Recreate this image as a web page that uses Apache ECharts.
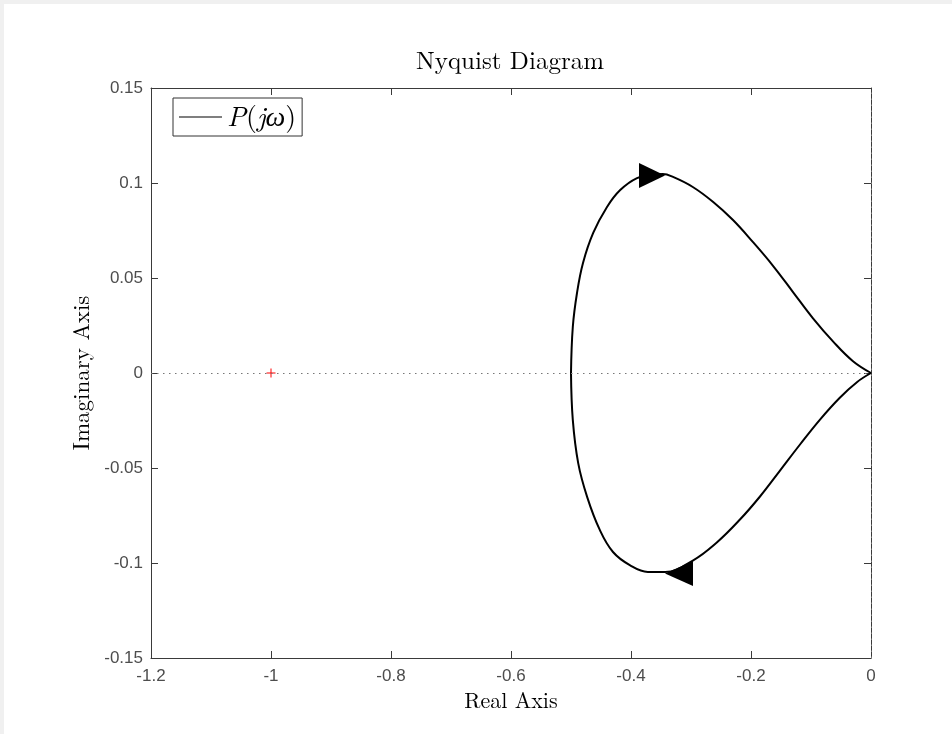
<!DOCTYPE html>
<html>
<head>
<meta charset="utf-8">
<script src="https://cdn.jsdelivr.net/npm/echarts@6/dist/echarts.min.js"></script>
<style>
  html, body { margin: 0; padding: 0; background: #f0f0f0; }
  #chart { position: absolute; left: 4px; top: 4px; width: 948px; height: 730px; background: #ffffff; }
</style>
</head>
<body>
<div id="chart"></div>
<script>
// Nyquist curve of P(jw): upper branch (positive imaginary part), traced from -0.5 back to the origin
const upperRe = [-0.500, -0.497, -0.490, -0.480, -0.463, -0.440, -0.418, -0.390, -0.365, -0.347, -0.330, -0.297, -0.263, -0.230, -0.197, -0.163, -0.130, -0.097, -0.063, -0.030, 0.000];
const upperIm = [0.000, 0.0242, 0.0421, 0.0579, 0.0737, 0.0874, 0.0963, 0.1026, 0.1042, 0.1047, 0.1032, 0.0979, 0.0900, 0.0805, 0.0690, 0.0563, 0.0426, 0.0289, 0.0165, 0.0062, 0.000];
// lower branch (negative imaginary part), traced from the origin out to -0.5
const lowerRe = [0.000, -0.023, -0.052, -0.085, -0.118, -0.152, -0.185, -0.218, -0.257, -0.297, -0.343, -0.372, -0.402, -0.430, -0.452, -0.473, -0.488, -0.497, -0.500];
const lowerIm = [0.000, -0.0047, -0.0130, -0.0245, -0.0375, -0.0515, -0.0650, -0.0770, -0.0892, -0.0987, -0.1047, -0.1047, -0.1011, -0.0942, -0.0826, -0.0653, -0.0474, -0.0247, 0.000];
// direction arrows on each branch: [re, im]
const arrowRight = [-0.365, 0.104];
const arrowLeft = [-0.320, -0.1055];
// critical point
const criticalPoint = [-1, 0];
// tick settings
const xTicks = { min: -1.2, max: 0, interval: 0.2 };
const yTicks = { min: -0.15, max: 0.15, interval: 0.05 };
const seriesName = 'P(jω)';

const pair = (xs, ys) => xs.map((x, i) => [x, ys[i]]);

const axisColor = '#3a3a3a';
const labelColor = '#4d4d4d';
const serif = '"Latin Modern Roman", "CMU Serif", "Liberation Serif", "DejaVu Serif", serif';
const sans = '"Liberation Sans", Arial, Helvetica, sans-serif';

function fmt(v) {
  if (Math.abs(v) < 1e-9) return '0';
  return String(+v.toFixed(2));
}

const baseX = {
  type: 'value', min: xTicks.min, max: xTicks.max, interval: xTicks.interval,
  axisLine: { show: true, onZero: false, lineStyle: { color: axisColor, width: 1 } },
  axisTick: { show: true, inside: true, length: 7, lineStyle: { color: axisColor } },
  splitLine: { show: false }
};
const baseY = {
  type: 'value', min: yTicks.min, max: yTicks.max, interval: yTicks.interval,
  axisLine: { show: true, onZero: false, lineStyle: { color: axisColor, width: 1 } },
  axisTick: { show: true, inside: true, length: 7, lineStyle: { color: axisColor } },
  splitLine: { show: false }
};

const chart = echarts.init(document.getElementById('chart'), null, { renderer: 'canvas' });
chart.setOption({
  animation: false,
  backgroundColor: '#ffffff',
  title: {
    text: 'Nyquist Diagram',
    left: 501, top: 40, textAlign: 'center',
    textStyle: { fontFamily: serif, fontSize: 25, fontWeight: 'normal', color: '#000' }
  },
  grid: { left: 147, top: 84, right: 81, bottom: 76, containLabel: false },
  legend: {
    data: [seriesName],
    left: 169, top: 94,
    padding: [5, 6, 5, 6],
    borderColor: '#333', borderWidth: 1,
    backgroundColor: '#fff',
    itemWidth: 43, itemHeight: 12, itemGap: 4,
    icon: 'path://M0,0 L43,0 L43,1 L0,1 Z',
    itemStyle: { color: '#000' },
    lineStyle: { width: 1, color: '#000' },
    formatter: () => '{i|P}{n|(}{i|jω}{n|)}',
    textStyle: {
      fontFamily: serif, fontSize: 28, color: '#000',
      rich: {
        i: { fontFamily: serif, fontStyle: 'italic', fontSize: 28, color: '#000', height: 29 },
        n: { fontFamily: serif, fontSize: 28, color: '#000', height: 29 }
      }
    }
  },
  xAxis: [
    Object.assign({}, baseX, {
      position: 'bottom',
      name: 'Real Axis', nameLocation: 'middle', nameGap: 26,
      nameTextStyle: { fontFamily: serif, fontSize: 22, color: '#000' },
      axisLabel: { show: true, color: labelColor, fontFamily: sans, fontSize: 17, margin: 10, formatter: fmt }
    }),
    Object.assign({}, baseX, { position: 'top', axisLabel: { show: false } })
  ],
  yAxis: [
    Object.assign({}, baseY, {
      position: 'left',
      name: 'Imaginary Axis', nameLocation: 'middle', nameGap: 58,
      nameTextStyle: { fontFamily: serif, fontSize: 23, color: '#000' },
      axisLabel: { show: true, color: labelColor, fontFamily: sans, fontSize: 17, margin: 8, formatter: fmt }
    }),
    Object.assign({}, baseY, { position: 'right', axisLabel: { show: false } })
  ],
  series: [
    {
      name: 'zero-lines', type: 'line', data: [], silent: true,
      markLine: {
        silent: true, symbol: 'none', label: { show: false },
        lineStyle: { type: [1.5, 4.5], color: '#777', width: 1 },
        data: [{ yAxis: 0 }, { xAxis: 0 }]
      }
    },
    {
      name: seriesName, type: 'line', data: pair(upperRe, upperIm),
      symbol: 'none', smooth: 0.4, lineStyle: { color: '#000', width: 2 }, itemStyle: { color: '#000' }, z: 3
    },
    {
      name: seriesName, type: 'line', data: pair(lowerRe, lowerIm),
      symbol: 'none', smooth: 0.4, lineStyle: { color: '#000', width: 2 }, itemStyle: { color: '#000' }, z: 3
    },
    {
      name: 'arrow-right', type: 'scatter', data: [arrowRight], silent: true,
      symbol: 'path://M0,0 L26,12.5 L0,25 Z', symbolSize: [26, 25], symbolKeepAspect: false,
      itemStyle: { color: '#000', opacity: 1 }, z: 4
    },
    {
      name: 'arrow-left', type: 'scatter', data: [arrowLeft], silent: true,
      symbol: 'path://M26,0 L0,12.5 L26,25 Z', symbolSize: [28, 25], symbolKeepAspect: false,
      itemStyle: { color: '#000', opacity: 1 }, z: 4
    },
    {
      name: 'critical', type: 'scatter', data: [criticalPoint], silent: true,
      symbol: 'path://M4,0 h1 v4 h4 v1 h-4 v4 h-1 v-4 h-4 v-1 h4 z', symbolSize: 9,
      itemStyle: { color: '#ff0000', opacity: 1 }, z: 4
    }
  ]
});
</script>
</body>
</html>
